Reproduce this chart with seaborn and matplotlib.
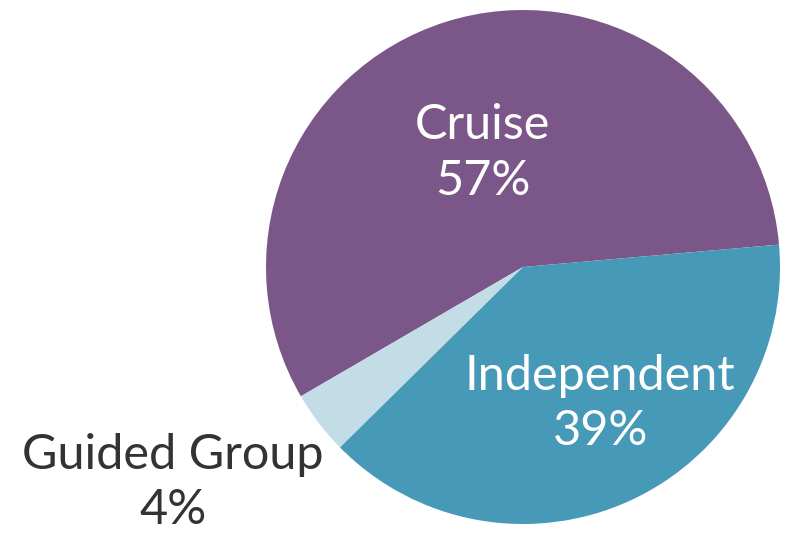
import numpy as np
import matplotlib
matplotlib.use("Agg")
import matplotlib.pyplot as plt
import seaborn as sns

# Data
categories = ["Cruise", "Guided Group", "Independent"]
shares = [57, 4, 39]
colors = ["#7B5689", "#C2DDE6", "#4699B7"]
text_colors = ["white", "#333333", "white"]

sns.set_theme(style="white")
plt.rcParams['font.family'] = ['Lato', 'DejaVu Sans']

fig = plt.figure(figsize=(7.94, 5.49), dpi=100)
ax = fig.add_axes([0, 0, 1, 1])

wedges, _ = ax.pie(shares, colors=colors, startangle=5, counterclock=True,
                   wedgeprops=dict(linewidth=0), radius=1.0)

# label placement: (radius, angle tweak in degrees) per slice
placement = [(0.47, 1.8), (1.60, -5.8), (0.61, 4.7)]
for w, cat, val, tc, (r, dth) in zip(wedges, categories, shares, text_colors, placement):
    mid = np.deg2rad((w.theta1 + w.theta2) / 2 + dth)
    ax.text(r * np.cos(mid), r * np.sin(mid), f"{cat}\n{val}%", ha='center', va='center',
            color=tc, fontsize=35, linespacing=1.32)

ax.set_xlim(-523 / 257, (794 - 523) / 257)
ax.set_ylim((267 - 549) / 257, 267 / 257)
ax.set_aspect('equal', adjustable='datalim')
ax.axis('off')

fig.savefig("out.png", dpi=100)
